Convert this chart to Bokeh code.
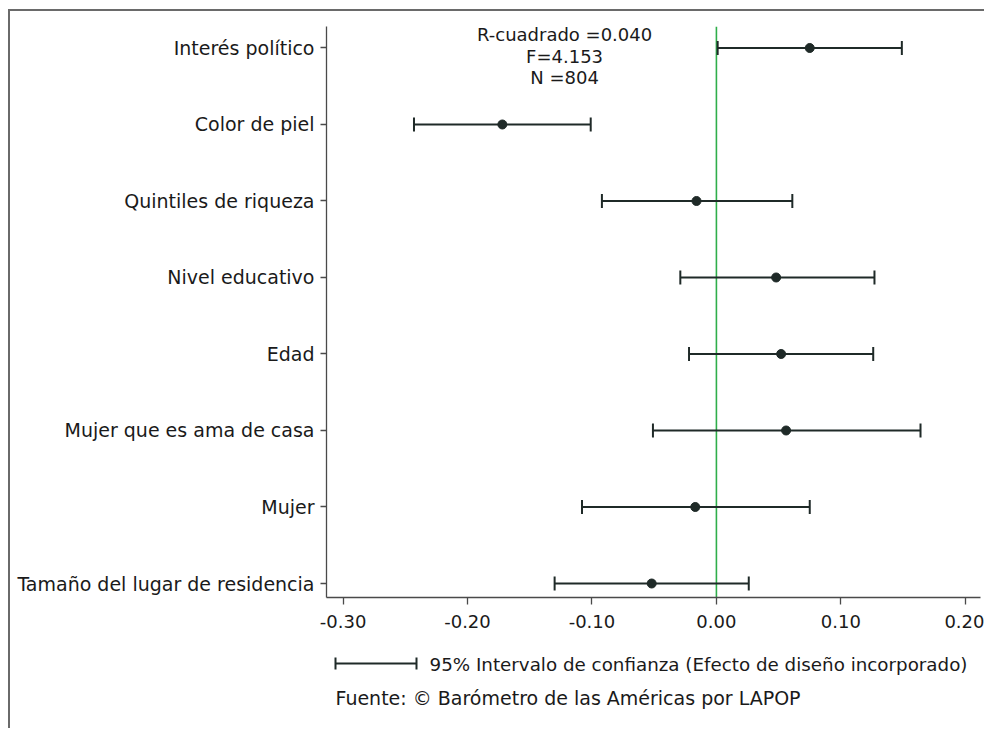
from bokeh.plotting import figure
from bokeh.models import (ColumnDataSource, Whisker, TeeHead, Span, Range1d,
                          FixedTicker, NumeralTickFormatter, Label, Spacer)
from bokeh.layouts import column, row
from bokeh.embed import file_html
from bokeh.resources import INLINE
from bokeh.core.properties import value

# ---------------- data ----------------
variables = ["Interés político", "Color de piel", "Quintiles de riqueza",
             "Nivel educativo", "Edad", "Mujer que es ama de casa", "Mujer",
             "Tamaño del lugar de residencia"]
coef = [0.075, -0.172, -0.016, 0.048, 0.052, 0.056, -0.017, -0.052]
ci_low = [0.001, -0.243, -0.092, -0.029, -0.022, -0.051, -0.108, -0.130]
ci_high = [0.149, -0.101, 0.061, 0.127, 0.126, 0.164, 0.075, 0.026]
x_ticks = [-0.30, -0.20, -0.10, 0.00, 0.10, 0.20]
stats_lines = ["R-cuadrado =0.040", "F=4.153", "N =804"]
legend_text = "95% Intervalo de confianza (Efecto de diseño incorporado)"
source_text = "Fuente: © Barómetro de las Américas por LAPOP"

# ---------------- style ----------------
FONT = "DejaVu Sans"
INK = "#1f2a28"
TXT = "#1a1a1a"
AXIS = "#4a4a4a"
GREEN = "#2fae4a"

rows = list(range(len(variables)))
src = ColumnDataSource(dict(y=rows, coef=coef, lo=ci_low, hi=ci_high))

p = figure(width=974, height=631, output_backend="svg", toolbar_location=None,
           x_range=Range1d(-0.3133, 0.2122), y_range=Range1d(7.183, -0.281),
           min_border_left=316, min_border_right=4, min_border_top=15,
           min_border_bottom=45)
p.outline_line_color = None
p.xgrid.visible = False
p.ygrid.visible = False
p.background_fill_color = "white"
p.border_fill_color = "white"

# x axis
p.xaxis.ticker = FixedTicker(ticks=x_ticks)
p.xaxis.formatter = NumeralTickFormatter(format="0.00")
p.xaxis.minor_tick_line_color = None
p.xaxis.major_tick_out = 7
p.xaxis.major_tick_in = 0
p.xaxis.major_label_standoff = 10
# y axis
p.yaxis.ticker = FixedTicker(ticks=rows)
p.yaxis.major_label_overrides = {i: name for i, name in enumerate(variables)}
p.yaxis.minor_tick_line_color = None
p.yaxis.major_tick_out = 6
p.yaxis.major_tick_in = 0
p.yaxis.major_label_standoff = 6
for ax in (p.xaxis, p.yaxis):
    ax.axis_line_color = AXIS
    ax.axis_line_width = 1.3
    ax.major_tick_line_color = AXIS
    ax.major_tick_line_width = 1.3
    ax.major_label_text_font = FONT
    ax.major_label_text_color = TXT
p.xaxis.major_label_text_font_size = "18px"
p.yaxis.major_label_text_font_size = "19px"

# zero reference line
p.add_layout(Span(location=0, dimension="height", line_color=GREEN,
                  line_width=1.6, level="underlay"))

# confidence intervals
head = dict(size=14, line_color=INK, line_width=2)
p.add_layout(Whisker(source=src, base="y", lower="lo", upper="hi",
                     dimension="width", line_color=INK, line_width=2,
                     lower_head=TeeHead(**head), upper_head=TeeHead(**head)))
p.scatter(x="coef", y="y", source=src, size=9, color=INK)

# model statistics
stats_x = -0.122
stats_y = [-0.170, 0.111, 0.386]
for t, yy in zip(stats_lines, stats_y):
    p.add_layout(Label(x=stats_x, y=yy, text=t, text_align="center",
                       text_baseline="middle", text_font=FONT,
                       text_font_size="18px", text_color=TXT))

# ---------------- legend / source strip ----------------
# its frame is aligned with the main plot frame; coordinates are page pixels
q = figure(width=974, height=86, output_backend="svg", toolbar_location=None,
           x_range=Range1d(326, 980), y_range=Range1d(728, 642),
           x_axis_type=None, y_axis_type=None, min_border=0,
           min_border_left=316, min_border_right=4)
q.outline_line_color = None
q.xgrid.visible = False
q.ygrid.visible = False
q.background_fill_color = "white"
q.border_fill_color = "white"

lx0, lx1, ly = 335, 416, 663
q.segment(x0=[lx0], y0=[ly], x1=[lx1], y1=[ly], line_color=INK, line_width=2)
q.segment(x0=[lx0, lx1], y0=[ly - 6, ly - 6], x1=[lx0, lx1], y1=[ly + 6, ly + 6],
          line_color=INK, line_width=2)
q.text(x=[429], y=[ly + 1], text=[legend_text], text_font=value(FONT),
       text_font_size="18.3px", text_color=TXT, text_baseline="middle")
q.text(x=[335], y=[697], text=[source_text], text_font=value(FONT),
       text_font_size="19px", text_color=TXT, text_baseline="middle")

inner = column(p, q, spacing=0,
               styles={"border-left": "2px solid #6a6a6a",
                       "border-top": "2px solid #6a6a6a"})
layout = row(Spacer(width=8), column(Spacer(height=9), inner, spacing=0),
             spacing=0)

open("out.html", "w").write(file_html(layout, INLINE))
